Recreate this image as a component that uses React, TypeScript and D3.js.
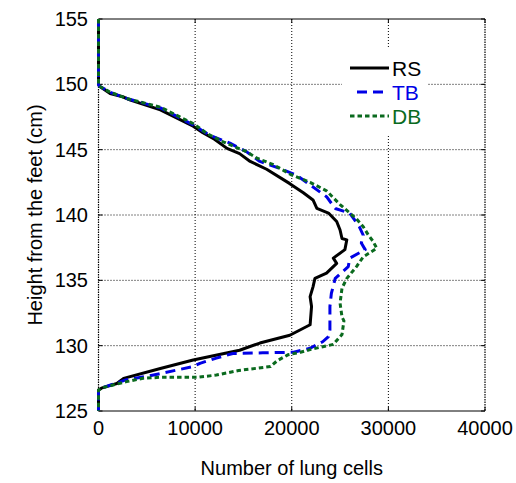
import React from "react";
import * as d3 from "d3";

const xTicks = [0, 10000, 20000, 30000, 40000];
const yTicks = [125, 130, 135, 140, 145, 150, 155];

const rsHeight = [155, 150, 149.85, 149.3, 149.05, 148.8, 148.05, 146.8, 146.3, 145.8, 145.1, 144.7, 144.1, 143.5, 142.4, 141.7, 141.15, 140.5, 140.15, 139.5, 138.85, 138.2, 138.1, 137.35, 136.7, 136.3, 135.55, 135.15, 134.5, 133.75, 133.0, 131.6, 130.8, 130.2, 129.65, 128.9, 128.25, 127.5, 127.1, 126.75, 126.6, 125];
const rsCells = [0, 0, 100, 1200, 2500, 3300, 6400, 9800, 10800, 12000, 13300, 14600, 15700, 17400, 19800, 21200, 22200, 22600, 23800, 24650, 25000, 25200, 25700, 25500, 24300, 24650, 23600, 22400, 22200, 21900, 22050, 21900, 19800, 16700, 14600, 9800, 6400, 2600, 1900, 300, 0, 0];

const tbHeight = [155, 150, 149.85, 149.4, 148.9, 148.2, 146.9, 146.1, 145.5, 144.85, 144.1, 143.55, 143.05, 142.3, 141.4, 140.5, 140.15, 139.1, 138.45, 137.85, 137.35, 136.7, 136.05, 135.15, 134.0, 133.0, 131.2, 130.7, 130.3, 129.8, 129.5, 129.45, 129.4, 129.05, 128.65, 128.4, 127.65, 127.4, 126.8, 126.6, 125];
const tbCells = [0, 0, 100, 1200, 3000, 6400, 9800, 11500, 13600, 15300, 16700, 18800, 20500, 21900, 23600, 24500, 26000, 27000, 27400, 27200, 27600, 26000, 25850, 24500, 24100, 23950, 23950, 23800, 23200, 21900, 20200, 17000, 13900, 12200, 10500, 9800, 5000, 2900, 500, 0, 0];

const dbHeight = [155, 150, 149.85, 149.4, 148.9, 148.25, 147.0, 146.25, 145.6, 144.85, 144.35, 143.85, 143.1, 142.5, 141.85, 140.8, 139.7, 139.1, 138.5, 138.0, 137.45, 136.8, 136.05, 135.15, 134.4, 133.25, 132.2, 131.9, 130.85, 130.1, 129.7, 129.5, 129.3, 128.85, 128.4, 128.1, 127.75, 127.58, 127.58, 127.5, 127.25, 126.8, 126.6, 125];
const dbCells = [0, 0, 100, 1200, 3000, 6400, 9800, 11200, 12900, 15300, 16400, 18100, 19900, 21900, 23600, 25000, 26700, 27400, 27900, 28400, 28800, 27400, 26700, 25700, 25200, 25000, 25200, 25400, 25200, 24300, 21900, 20900, 19600, 18500, 17800, 14500, 12200, 10200, 6400, 4600, 2900, 500, 0, 0];

const seriesNames = ["RS", "TB", "DB"];

const left = 98.5, right = 485, top = 19, bottom = 411;
const FONT = "Liberation Sans, Arial, Helvetica, sans-serif";

export default function App() {
  const x = d3.scaleLinear().domain([0, 40000]).range([left, right]);
  const y = d3.scaleLinear().domain([125, 155]).range([bottom, top]);
  const line = d3
    .line<[number, number]>()
    .x((d) => x(d[0]))
    .y((d) => y(d[1]));
  const zip = (c: number[], h: number[]) => c.map((v, i) => [v, h[i]] as [number, number]);
  const series = [
    { name: seriesNames[0], data: zip(rsCells, rsHeight), color: "#000000", dash: "none" },
    { name: seriesNames[1], data: zip(tbCells, tbHeight), color: "#0000e6", dash: "10,6" },
    { name: seriesNames[2], data: zip(dbCells, dbHeight), color: "#0a6a1e", dash: "4.5,3" },
  ];
  const legendX0 = 350, legendX1 = 389;
  const legendY = [68, 92, 116];

  return (
    <svg width={516} height={483} style={{ position: "absolute", left: 0, top: 0, background: "#fff" }}>
      <rect x={0} y={0} width={516} height={483} fill="#fff" />
      {xTicks.slice(1, -1).map((t) => (
        <line key={"gx" + t} x1={x(t)} x2={x(t)} y1={top} y2={bottom} stroke="#000" strokeWidth={1} strokeDasharray="1,2" />
      ))}
      {yTicks.slice(1, -1).map((t) => (
        <line key={"gy" + t} x1={left} x2={right} y1={y(t)} y2={y(t)} stroke="#000" strokeWidth={1} strokeDasharray="1,2" />
      ))}
      <rect x={342} y={47} width={86} height={89} fill="#fff" />
      <line x1={left} x2={right} y1={top} y2={top} stroke="#000" strokeWidth={1} />
      <line x1={left} x2={right} y1={bottom} y2={bottom} stroke="#000" strokeWidth={1} />
      <line x1={left} x2={left} y1={top} y2={bottom} stroke="#000" strokeWidth={1.2} strokeDasharray="1.5,1" />
      <line x1={right} x2={right} y1={top} y2={bottom} stroke="#000" strokeWidth={1.2} strokeDasharray="1.5,1" />
      {xTicks.map((t) => (
        <g key={"tx" + t}>
          <line x1={x(t)} x2={x(t)} y1={bottom} y2={bottom - 4} stroke="#000" />
          <line x1={x(t)} x2={x(t)} y1={top} y2={top + 4} stroke="#000" />
          <text x={x(t)} y={435} textAnchor="middle" fontFamily={FONT} fontSize={20} fill="#000">
            {t}
          </text>
        </g>
      ))}
      {yTicks.map((t) => (
        <g key={"ty" + t}>
          <line x1={left} x2={left + 4} y1={y(t)} y2={y(t)} stroke="#000" />
          <line x1={right} x2={right - 4} y1={y(t)} y2={y(t)} stroke="#000" />
          <text x={88} y={y(t) + 7} textAnchor="end" fontFamily={FONT} fontSize={20} fill="#000">
            {t}
          </text>
        </g>
      ))}
      <g>
        {series.map((s) => (
          <path key={s.name} d={line(s.data) || ""} fill="none" stroke={s.color} strokeWidth={3} strokeDasharray={s.dash} strokeLinejoin="round" />
        ))}
      </g>
      {series.map((s, i) => (
        <g key={"lg" + s.name}>
          <line
            x1={i === 1 ? legendX0 + 7 : legendX0}
            x2={legendX1}
            y1={legendY[i]}
            y2={legendY[i]}
            stroke={s.color}
            strokeWidth={3}
            strokeDasharray={s.dash}
          />
          <text x={392} y={legendY[i] + 8} fontFamily={FONT} fontSize={21} fill={s.color}>
            {s.name}
          </text>
        </g>
      ))}
      <text x={(left + right) / 2} y={475} textAnchor="middle" fontFamily={FONT} fontSize={20} fill="#000">
        Number of lung cells
      </text>
      <text transform={`translate(42,${(top + bottom) / 2}) rotate(-90)`} textAnchor="middle" fontFamily={FONT} fontSize={20} fill="#000">
        Height from the feet (cm)
      </text>
    </svg>
  );
}
